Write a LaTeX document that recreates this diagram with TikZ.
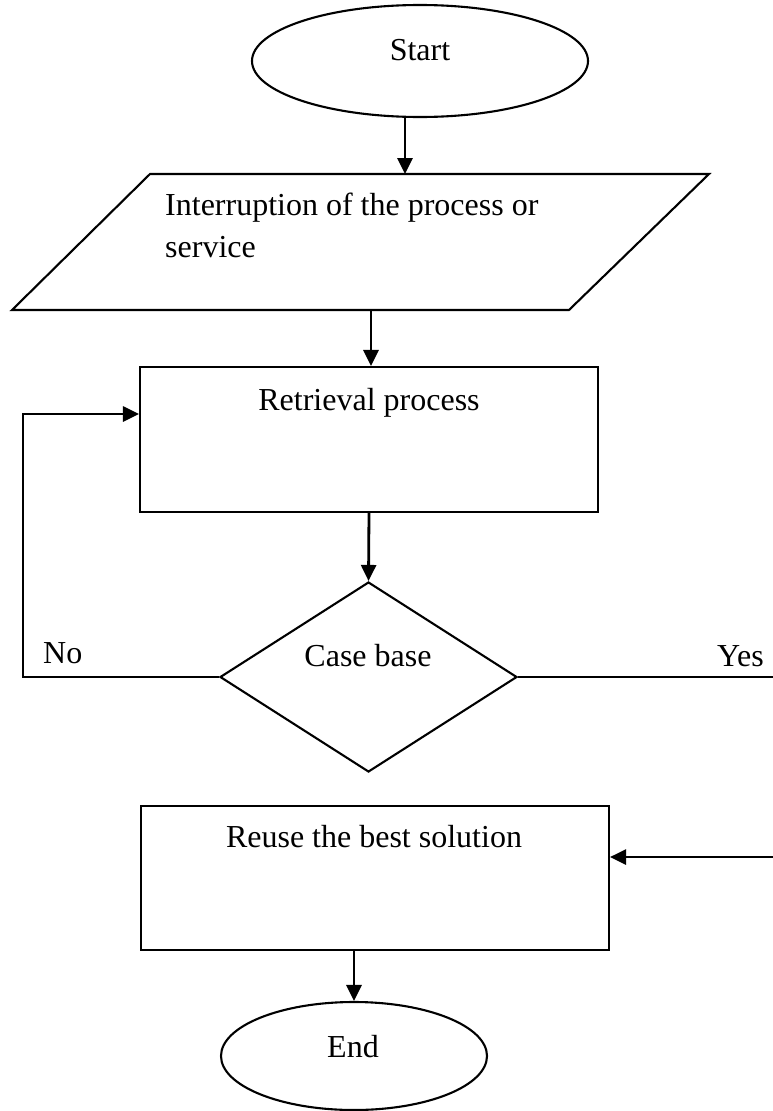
\documentclass[tikz,border=0pt]{standalone}
\usepackage{fontspec}
\setmainfont{Liberation Serif}
\usetikzlibrary{shapes.geometric,arrows.meta}
\tikzset{
  shapeline/.style={draw, line width=2.1pt, inner sep=0pt},
  txt/.style={font=\fontsize{32}{42}\selectfont, inner sep=0pt, anchor=base},
  flow/.style={line width=2.8pt, -{Triangle[length=16pt,width=15pt]}},
  plain/.style={line width=2.4pt}
}
\begin{document}
\begin{tikzpicture}[x=1pt,y=-1pt]
\useasboundingbox (0,0) rectangle (773,1111);

% terminals, process boxes and decision
\node[shapeline, ellipse, minimum width=336pt, minimum height=112pt] (start) at (420,61) {};
\node[shapeline, rectangle, minimum width=458pt, minimum height=145pt] (retr) at (369,439.5) {};
\node[shapeline, diamond, minimum width=297pt, minimum height=190pt] (dec) at (368.5,677) {};
\node[shapeline, rectangle, minimum width=468pt, minimum height=144pt] (reuse) at (375,878) {};
\node[shapeline, ellipse, minimum width=266pt, minimum height=108pt] (end) at (354,1056) {};

% input parallelogram
\draw[line width=2.1pt] (150,174) coordinate (inTL) -- (709,174) coordinate (inTR)
  -- (569,310) coordinate (inBR) -- (12,310) coordinate (inBL) -- cycle;
\coordinate (inTop) at (405,174);
\coordinate (inBot) at (371,310);

% texts (the two-line label is anchored on its last baseline)
\node[txt] (tStart) at (420,60) {Start};
\node[txt, anchor=base west, align=left] (tIn) at (165,257) {Interruption of the process or\\service};
\node[txt] (tRetr) at (369,410) {Retrieval process};
\node[txt] (tCase) at (368,666) {Case base};
\node[txt, anchor=base west] (tNo) at (43,663) {No};
\node[txt, anchor=base west] (tYes) at (717,666) {Yes};
\node[txt] (tReuse) at (374,847) {Reuse the best solution};
\node[txt] (tEnd) at (353,1057) {End};

% connectors
\draw[flow] (start.south -| inTop) -- (inTop);
\draw[flow] (inBot) -- (retr.north -| inBot);
\draw[flow] (retr.south) -- (dec.north);

\coordinate (loopTop) at (23,414);
\draw[flow] (dec.west) -- (dec.west -| loopTop) -- (loopTop) -- (retr.west |- loopTop);

\coordinate (yesOut) at (773,677);
\draw[plain] (dec.east) -- (yesOut);
\coordinate (yesIn) at (773,857);
\draw[flow] (yesIn) -- (reuse.east |- yesIn);

\draw[flow] (reuse.south -| end.north) -- (end.north);
\end{tikzpicture}
\end{document}
